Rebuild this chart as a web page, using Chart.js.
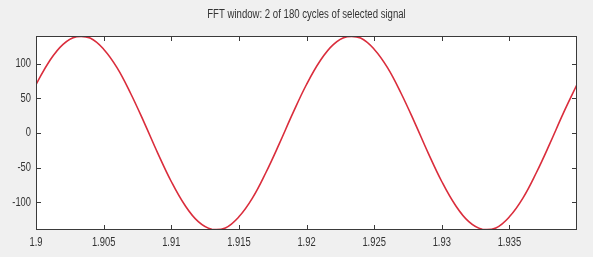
<!DOCTYPE html>
<html>
<head>
<meta charset="utf-8">
<script src="https://cdn.jsdelivr.net/npm/chart.js@4"></script>
<style>
html,body{margin:0;padding:0;background:#f0f0f0;}
#wrap{position:relative;width:593px;height:257px;}
</style>
</head>
<body>
<div id="wrap"><canvas id="c" width="593" height="257"></canvas></div>
<script>
const titleText = "FFT window: 2 of 180 cycles of selected signal";
const timeValues = [1.900,1.901,1.902,1.903,1.904,1.905,1.906,1.907,1.908,1.909,
  1.910,1.911,1.912,1.913,1.914,1.915,1.916,1.917,1.918,1.919,
  1.920,1.921,1.922,1.923,1.924,1.925,1.926,1.927,1.928,1.929,
  1.930,1.931,1.932,1.933,1.934,1.935,1.936,1.937,1.938,1.939,1.940];
const signalValues = [70,104,128,139,137,121,94,57,15,-29,
  -70,-104,-128,-139,-137,-121,-94,-57,-15,29,
  70,104,128,139,137,121,94,57,15,-29,
  -70,-104,-128,-139,-137,-121,-94,-57,-15,29,70];
const xTicks = [1.9,1.905,1.91,1.915,1.92,1.925,1.93,1.935];
const xTickLabels = ["1.9","1.905","1.91","1.915","1.92","1.925","1.93","1.935"];
const yTicks = [-100,-50,0,50,100];
const yTickLabels = ["-100","-50","0","50","100"];
const xRange = [1.9, 1.94];
const yRange = [-140, 140];

const FONT = "'Liberation Sans',Arial,sans-serif";

function narrowText(ctx, text, x, y, align, sx) {
  ctx.save();
  ctx.translate(x, y);
  ctx.scale(sx, 1);
  ctx.textAlign = align;
  ctx.fillText(text, 0, 0);
  ctx.restore();
}

const boxPlugin = {
  id: 'boxTicks',
  beforeDraw(chart) {
    const {ctx, chartArea:a} = chart;
    ctx.save();
    ctx.fillStyle = '#ffffff';
    ctx.fillRect(a.left, a.top, a.right - a.left, a.bottom - a.top);
    ctx.restore();
  },
  afterDraw(chart) {
    const {ctx, chartArea:a, scales} = chart;
    ctx.save();
    ctx.strokeStyle = '#3a3a3a';
    ctx.lineWidth = 1;
    ctx.strokeRect(a.left + 0.5, a.top + 0.5, a.right - a.left - 1, a.bottom - a.top - 1);
    const L = 5;
    ctx.beginPath();
    xTicks.forEach(v => {
      const px = Math.round(scales.x.getPixelForValue(v)) + 0.5;
      ctx.moveTo(px, a.bottom); ctx.lineTo(px, a.bottom - L);
      ctx.moveTo(px, a.top); ctx.lineTo(px, a.top + L);
    });
    yTicks.forEach(v => {
      const py = Math.round(scales.y.getPixelForValue(v)) + 0.5;
      ctx.moveTo(a.left, py); ctx.lineTo(a.left + L, py);
      ctx.moveTo(a.right, py); ctx.lineTo(a.right - L, py);
    });
    ctx.stroke();
    ctx.fillStyle = '#333333';
    ctx.font = "12px " + FONT;
    ctx.textBaseline = 'middle';
    xTicks.forEach((v, i) => {
      narrowText(ctx, xTickLabels[i], scales.x.getPixelForValue(v), a.bottom + 13, 'center', 0.78);
    });
    yTicks.forEach((v, i) => {
      narrowText(ctx, yTickLabels[i], a.left - 5, scales.y.getPixelForValue(v), 'right', 0.78);
    });
    ctx.font = "12px " + FONT;
    narrowText(ctx, titleText, (a.left + a.right) / 2, 15, 'center', 0.80);
    ctx.restore();
  }
};

new Chart(document.getElementById('c'), {
  type: 'line',
  data: {
    datasets: [{
      data: timeValues.map((t, i) => ({x: t, y: signalValues[i]})),
      borderColor: 'rgb(218,45,60)',
      borderWidth: 1.6,
      pointRadius: 0,
      tension: 0.4,
      fill: false
    }]
  },
  options: {
    responsive: false,
    animation: false,
    layout: {padding: {left: 36, right: 16, top: 36, bottom: 27}},
    plugins: {legend: {display: false}, tooltip: {enabled: false}, title: {display: false}},
    scales: {
      x: {type: 'linear', min: xRange[0], max: xRange[1], display: false},
      y: {type: 'linear', min: yRange[0], max: yRange[1], display: false}
    }
  },
  plugins: [boxPlugin]
});
</script>
</body>
</html>
